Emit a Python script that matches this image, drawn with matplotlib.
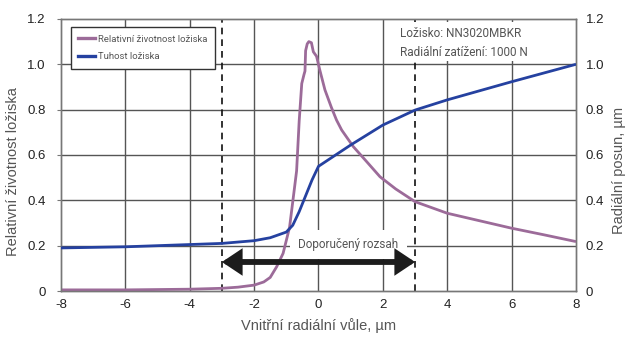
import matplotlib
matplotlib.use("Agg")
import matplotlib.pyplot as plt
from matplotlib.lines import Line2D
from matplotlib.patches import Rectangle

# Relative bearing life vs. internal radial clearance
life_x = [-8, -6, -4, -3, -2.5, -2, -1.7, -1.5, -1.3, -1.1, -0.9, -0.75, -0.68,
          -0.6, -0.52, -0.45, -0.42, -0.40, -0.35, -0.3, -0.22, -0.16, -0.06,
          0.04, 0.2, 0.4, 0.56, 0.72, 1.08, 1.5, 1.91, 2.4, 3.0, 4.0, 5.0, 6.0,
          7.0, 8.0]
life_y = [0.005, 0.005, 0.008, 0.012, 0.017, 0.026, 0.04, 0.06, 0.107, 0.166,
          0.28, 0.45, 0.53, 0.75, 0.915, 0.955, 0.97, 1.06, 1.09, 1.1, 1.095,
          1.055, 1.035, 0.975, 0.887, 0.81, 0.754, 0.71, 0.637, 0.57, 0.504,
          0.45, 0.394, 0.343, 0.31, 0.277, 0.248, 0.218]

# Bearing stiffness (radial displacement)
stiff_x = [-8, -6, -4, -3, -2, -1.5, -1, -0.8, -0.6, -0.4, -0.2, 0, 1, 2, 3, 4,
           6, 8]
stiff_y = [0.19, 0.195, 0.205, 0.21, 0.222, 0.235, 0.26, 0.29, 0.35, 0.42,
           0.49, 0.55, 0.644, 0.732, 0.798, 0.843, 0.923, 1.0]

recommended = [-3, 3]
x_ticks = [-8, -6, -4, -2, 0, 2, 4, 6, 8]
y_ticks = [0, 0.2, 0.4, 0.6, 0.8, 1.0, 1.2]
y_tick_labels = ["0", "0.2", "0.4", "0.6", "0.8", "1.0", "1.2"]

PURPLE = "#9c6b99"
BLUE = "#2541a0"
GRID = "#555555"
SPINE = "#777777"
LABEL = "#555555"
narrow = ["Roboto", "DejaVu Sans"]
plain = ["Liberation Sans", "DejaVu Sans"]

fig = plt.figure(figsize=(6.30, 3.38), dpi=100)
ax = fig.add_axes([0.0968, 0.139, 0.8175, 0.805])
ax2 = ax.twinx()

ax.set_xlim(-8, 8)
ax.set_ylim(0, 1.2)
ax2.set_ylim(0, 1.2)

# grid
for gx in x_ticks[1:-1]:
    ax.axvline(gx, color=GRID, lw=1.0, zorder=1)
for gy in y_ticks[1:-1]:
    ax.axhline(gy, color=GRID, lw=1.0, zorder=1)
for rx in recommended:
    ax.axvline(rx, color="#111111", lw=1.2, ls=(0, (4, 3)), zorder=1.5)

ax.set_xticks(x_ticks)
ax.set_xticklabels([str(v) for v in x_ticks], fontfamily=plain, fontsize=9.5,
                   color="#222222")
ax.set_yticks(y_ticks)
ax.set_yticklabels(y_tick_labels, fontfamily=plain, fontsize=9.5, color="#222222")
ax2.set_yticks(y_ticks)
ax2.set_yticklabels(y_tick_labels, fontfamily=plain, fontsize=9.5, color="#222222")
ax.tick_params(axis="x", length=0, pad=6)
ax.tick_params(axis="y", length=3, color=SPINE, pad=8)
ax2.tick_params(axis="y", length=0, pad=7)

for a in (ax, ax2):
    for s in a.spines.values():
        s.set_color(SPINE)
        s.set_linewidth(1.0)

ax.set_xlabel("Vnitřní radiální vůle, µm", fontfamily=plain, fontsize=10.5,
              color=LABEL)
ax.xaxis.set_label_coords(0.5, -0.1)
ax.set_ylabel("Relativní životnost ložiska", fontfamily=plain, fontsize=10.5,
              color=LABEL)
ax.yaxis.set_label_coords(-0.08, 0.44)
ax2.set_ylabel("Radiální posun, µm", fontfamily=plain, fontsize=10.5,
               color=LABEL)
ax2.yaxis.set_label_coords(1.07, 0.445)

# curves
ax.plot(life_x, life_y, color=PURPLE, lw=2.0, zorder=3, solid_capstyle="butt")
ax2.plot(stiff_x, stiff_y, color=BLUE, lw=2.0, zorder=3, solid_capstyle="butt")

# recommended range arrow
ax.annotate("", xy=(recommended[0], 0.128), xytext=(recommended[1], 0.128),
            arrowprops=dict(arrowstyle="<|-|>,head_length=0.45,head_width=0.3",
                            lw=4.2, color="#1c1c1c", mutation_scale=20,
                            shrinkA=0, shrinkB=0, joinstyle="miter"),
            zorder=4)
ax.text(0.93, 0.205, "Doporučený rozsah", ha="center", va="center",
        fontfamily=narrow, fontsize=8.5, color=LABEL, zorder=2,
        bbox=dict(facecolor="white", edgecolor="none", pad=6))

# bearing info panel
ax.add_patch(Rectangle((0.631, 0.846), 0.369, 0.143, transform=ax.transAxes,
                       facecolor="white", edgecolor="none", zorder=1.8))
ax.text(2.53, 1.163, "Ložisko: NN3020MBKR\nRadiální zatížení: 1000 N",
        ha="left", va="top", fontfamily=narrow, fontsize=8.5, color=LABEL,
        linespacing=1.6, zorder=2)

handles = [Line2D([], [], color=PURPLE, lw=2.4),
           Line2D([], [], color=BLUE, lw=2.4)]
leg = ax2.legend(handles, ["Relativní životnost ložiska", "Tuhost ložiska"],
                 loc="upper left", bbox_to_anchor=(0.019, 0.97),
                 borderaxespad=0,
                 prop={"family": narrow, "size": 6.8}, handlelength=1.8,
                 handletextpad=0.3, borderpad=0.8, labelspacing=0.9,
                 fancybox=False, framealpha=1, edgecolor="#333333",
                 labelcolor=LABEL)
leg.get_frame().set_linewidth(1.0)

fig.savefig("out.png", dpi=100)
